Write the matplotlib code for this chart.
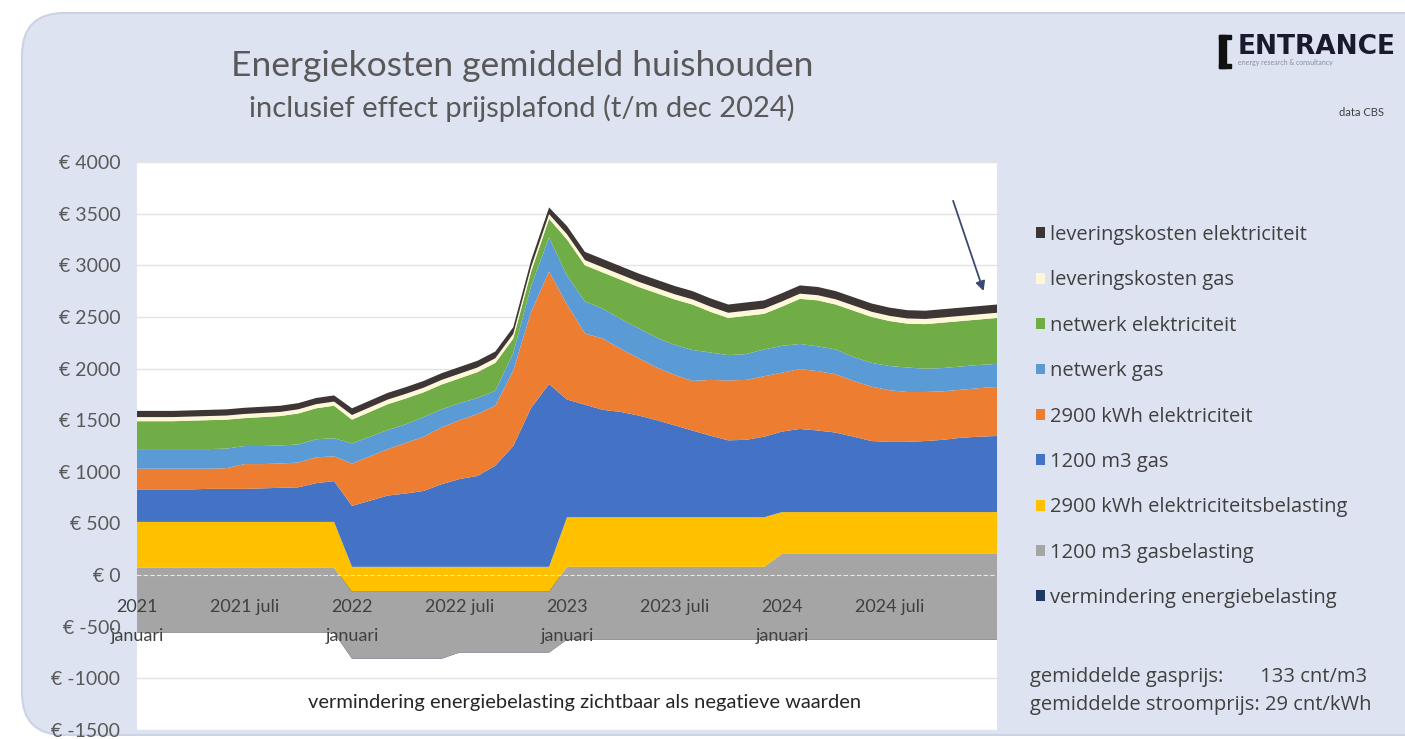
import matplotlib
matplotlib.use("Agg")
import matplotlib.pyplot as plt
from matplotlib.patches import FancyBboxPatch, Rectangle
import numpy as np

plt.rcParams['font.family'] = ['Lato', 'DejaVu Sans']

# maandelijkse kosten per component (euro per jaar), jan 2021 .. jan 2025
months = np.arange(49)

vermindering = [-560] * 12 + [-810] * 6 + [-750] * 6 + [-625] * 12 + [-625] * 13
gasbelasting = [630] * 12 + [650] * 6 + [590] * 6 + [705] * 12 + [830] * 13
stroombelasting = [445] * 12 + [240] * 12 + [480] * 12 + [405] * 13
gas = [315, 315, 315, 315, 320, 320, 320, 325, 330, 335, 375, 395,
       590, 640, 690, 710, 735, 800, 850, 880, 980, 1170, 1540, 1770,
       1140, 1090, 1040, 1020, 985, 940, 890, 840, 790, 745, 750, 780,
       780, 805, 790, 770, 730, 688, 680, 680, 688, 700, 720, 730, 737]
stroom = [200, 200, 200, 200, 195, 200, 240, 235, 235, 240, 250, 240,
          410, 430, 450, 490, 525, 550, 570, 600, 580, 730, 930, 1090,
          920, 690, 690, 610, 555, 510, 490, 480, 540, 580, 580, 585,
          570, 580, 575, 565, 540, 527, 500, 483, 475, 470, 465, 470, 475]
netwerk_gas = [190] * 6 + [175] * 6 + \
    [195, 190, 185, 180, 190, 175, 165, 155, 145, 170, 250, 330] + \
    [280, 310, 290, 290, 290, 290, 290, 300, 265, 245, 250, 260] + \
    [260, 243, 240, 240, 230, 230, 235, 237, 225, 225, 225, 225, 223]
netwerk_stroom = [270, 270, 270, 275, 280, 280, 270, 280, 285, 300, 300, 315,
                  230, 240, 250, 250, 240, 240, 240, 250, 270, 140, 140, 180,
                  350, 350, 350, 380, 400, 430, 440, 440, 395, 360, 370, 345,
                  380, 437, 445, 435, 450, 445, 435, 425, 432, 440, 440, 440, 445]
levering_gas = [40] * 12 + [45] * 12 + [50] * 12 + [50] * 13
levering_stroom = [60] * 12 + [65] * 12 + [80] * 12 + [80] * 13

series = [vermindering, gasbelasting, stroombelasting, gas, stroom,
          netwerk_gas, netwerk_stroom, levering_gas, levering_stroom]
labels = ["vermindering energiebelasting", "1200 m3 gasbelasting",
          "2900 kWh elektriciteitsbelasting", "1200 m3 gas",
          "2900 kWh elektriciteit", "netwerk gas", "netwerk elektriciteit",
          "leveringskosten gas", "leveringskosten elektriciteit"]
colors = ["#203864", "#A5A5A5", "#FFC000", "#4472C4", "#ED7D31",
          "#5B9BD5", "#70AD47", "#FFF8D8", "#3E3535"]

tick_pos = [0, 6, 12, 18, 24, 30, 36, 42]
tick_labels = ["2021\njanuari", "2021 juli", "2022\njanuari", "2022 juli",
               "2023\njanuari", "2023 juli", "2024\njanuari", "2024 juli"]
y_ticks = [-1500, -1000, -500, 0, 500, 1000, 1500, 2000, 2500, 3000, 3500, 4000]

W, H = 1405, 739
fig = plt.figure(figsize=(W / 100, H / 100), dpi=100)
fig.patch.set_facecolor("white")

# achtergrondpaneel
panel = FancyBboxPatch((22 / W, 4 / H), 1.05, (722 / H), transform=fig.transFigure,
                       boxstyle="round,pad=0,rounding_size=0.03",
                       facecolor="#DDE3F1", edgecolor="#CBD3E4", linewidth=1.5,
                       mutation_aspect=W / H, zorder=-5)
fig.patches.append(panel)

ax = fig.add_axes([137 / W, 9 / H, 860 / W, 568 / H])
ax.set_facecolor("white")
for v in y_ticks:
    ax.axhline(v, color="#E3E3E3", linewidth=1, zorder=0.5)
ax.stackplot(months, *series, colors=colors, labels=labels, linewidth=0, zorder=1)

ax.set_xlim(0, 48)
ax.set_ylim(-1500, 4000)
ax.set_yticks(y_ticks)
ax.set_yticklabels([f"€ {v}" for v in y_ticks])

for s in ["top", "right", "left"]:
    ax.spines[s].set_visible(False)
ax.spines["bottom"].set_position(("data", 0))
ax.spines["bottom"].set_color("#E8E8E8")
ax.spines["bottom"].set_linestyle((0, (3, 3)))
ax.spines["bottom"].set_zorder(5)

ax.set_xticks(tick_pos)
ax.set_xticklabels(tick_labels)
for lbl in ax.get_xticklabels():
    lbl.set_linespacing(2.05)
ax.tick_params(axis="x", length=0, pad=17, labelsize=13, labelcolor="#404040")
ax.tick_params(axis="y", length=0, pad=12, labelsize=14, labelcolor="#595959")

ax.text(25, -1230, "vermindering energiebelasting zichtbaar als negatieve waarden",
        ha="center", va="center", fontsize=14.5, color="#262626")

totaal = np.sum(np.array(series), axis=0)
ax.annotate("", xy=(47.3, totaal[47] + 120), xytext=(45.5, 3650),
            arrowprops=dict(arrowstyle="-|>", color="#3A4A70", lw=1.3,
                            mutation_scale=14))

# titels
fig.text(522 / W, 1 - 66 / H, "Energiekosten gemiddeld huishouden",
         ha="center", va="center", fontsize=25.5, color="#595959")
fig.text(522 / W, 1 - 108 / H, "inclusief effect prijsplafond (t/m dec 2024)",
         ha="center", va="center", fontsize=21, color="#595959")

# logo en bron
for rx, ry, rw, rh in [(1219, 35, 7, 33), (1219, 35, 12, 4), (1219, 64, 12, 4)]:
    fig.patches.append(Rectangle((rx / W, 1 - (ry + rh) / H), rw / W, rh / H,
                                 transform=fig.transFigure, color="#111111"))
fig.text(1238 / W, 1 - 47 / H, "ENTRANCE", ha="left", va="center",
         fontsize=19, fontweight="bold", family="DejaVu Sans", color="#1a1a2e")
fig.text(1238 / W, 1 - 63 / H, "energy research & consultancy", ha="left",
         va="center", fontsize=5, color="#8890a0")
fig.text(1384 / W, 1 - 113 / H, "data CBS", ha="right", va="center",
         fontsize=8, color="#404040")

# legenda
handles, labs = ax.get_legend_handles_labels()
leg = fig.legend(handles[::-1], labs[::-1], loc="upper left",
                 bbox_to_anchor=(1028 / W, 1 - 217 / H), frameon=False,
                 prop={"family": "Open Sans", "size": 14.5}, labelspacing=1.26,
                 handlelength=0.45, handleheight=0.45, handletextpad=0.25,
                 borderaxespad=0)
for t in leg.get_texts():
    t.set_color("#404040")

fig.text(1030 / W, 1 - 677 / H, "gemiddelde gasprijs:       133 cnt/m3",
         ha="left", va="center", fontsize=14.5, family="Open Sans", color="#404040")
fig.text(1030 / W, 1 - 705 / H, "gemiddelde stroomprijs: 29 cnt/kWh",
         ha="left", va="center", fontsize=14.5, family="Open Sans", color="#404040")

fig.savefig("out.png", dpi=100)
